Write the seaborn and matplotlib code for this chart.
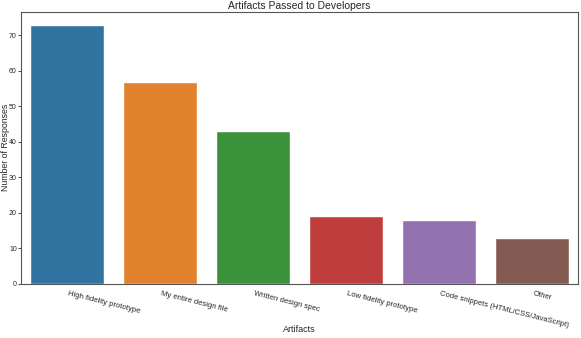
import pandas as pd
import matplotlib
matplotlib.use("Agg")
import matplotlib.pyplot as plt
import seaborn as sns

# Dane z wykresu
artifacts = ["High fidelity prototype", "My entire design file", "Written design spec",
             "Low fidelity prototype", "Code snippets (HTML/CSS/JavaScript)", "Other"]
responses = [73, 57, 43, 19, 18, 13]

df = pd.DataFrame({"Artifacts": artifacts, "Number of Responses": responses})

sns.set_style("white")
plt.rcParams["font.family"] = ["Liberation Sans", "DejaVu Sans"]
plt.rcParams["axes.edgecolor"] = "#555555"

fig, ax = plt.subplots(figsize=(5.81, 3.38), dpi=100)
sns.barplot(data=df, x="Artifacts", y="Number of Responses", hue="Artifacts",
            palette="tab10", saturation=0.75, legend=False, ax=ax)
ax.set_title("Artifacts Passed to Developers", fontsize=7.5, pad=2)
ax.set_xlabel("Artifacts", fontsize=6.5)
ax.set_ylabel("Number of Responses", fontsize=6.3)
ax.xaxis.set_label_coords(0.5, -0.15)
ax.yaxis.set_label_coords(-0.019, 0.5)
ax.tick_params(axis="y", labelsize=5.0, left=True, length=2, width=0.6, pad=1)
ax.tick_params(axis="x", labelsize=5.5, pad=1)
plt.setp(ax.get_xticklabels(), rotation=-14, ha="left")
for s in ax.spines.values():
    s.set_linewidth(0.8)

fig.subplots_adjust(left=0.036, right=0.995, top=0.965, bottom=0.16)
fig.savefig("out.png", dpi=100)
